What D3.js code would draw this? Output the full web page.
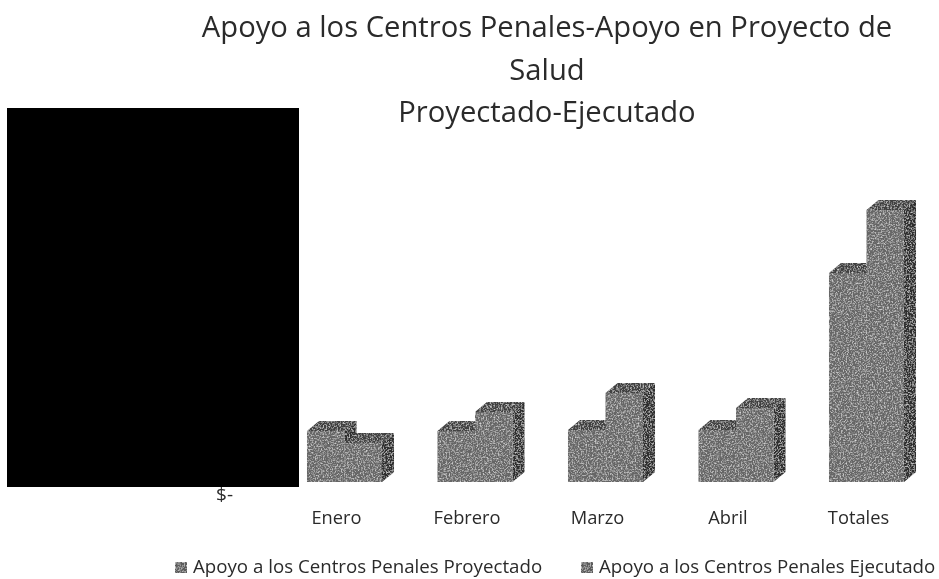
<!DOCTYPE html>
<html lang="es">
  <head>
    <meta charset="UTF-8">
    <title>Apoyo a los Centros Penales</title>
    <script src="https://d3js.org/d3.v7.min.js"></script>
    <style>
      * { margin: 0; padding: 0; }
      body { background: #fff; }
      body > svg { display: block; }
      text { font-family: "Open Sans", "Noto Sans", sans-serif; fill: #2b2b2b; }
    </style>
  </head>
  <body>
    <script>
      var categories = ["Enero", "Febrero", "Marzo", "Abril", "Totales"];
      var seriesNames = ["Apoyo a los Centros Penales Proyectado", "Apoyo a los Centros Penales Ejecutado"];
      var proyectado = [51, 51, 52, 52, 209];
      var ejecutado = [39, 70, 89, 74, 272];
      var titleLines = ["Apoyo a los Centros Penales-Apoyo en Proyecto de", "Salud", "Proyectado-Ejecutado"];

      var width = 939, height = 579;
      var baseY = 482, depthX = 12, depthY = 10;

      var svg = d3.select("body").append("svg")
        .attr("width", width)
        .attr("height", height);

      // scanned print look: grain on the bars, slight blur on everything
      var defs = svg.append("defs");
      var grain = defs.append("filter").attr("id", "grain")
        .attr("x", "-5%").attr("y", "-5%").attr("width", "110%").attr("height", "110%");
      grain.append("feTurbulence")
        .attr("type", "fractalNoise").attr("baseFrequency", 0.65)
        .attr("numOctaves", 3).attr("seed", 4).attr("result", "noise");
      grain.append("feColorMatrix").attr("in", "noise").attr("type", "matrix")
        .attr("values", "0 0 0 0 1  0 0 0 0 1  0 0 0 0 1  1.5 0 0 0 -0.68")
        .attr("result", "specks");
      grain.append("feComposite").attr("in", "specks").attr("in2", "SourceAlpha")
        .attr("operator", "in").attr("result", "clipped");
      grain.append("feMerge").selectAll("feMergeNode")
        .data(["SourceGraphic", "clipped"])
        .enter().append("feMergeNode").attr("in", function (d) { return d; });
      defs.append("filter").attr("id", "soft")
        .append("feGaussianBlur").attr("stdDeviation", 0.5);

      var x = d3.scaleBand()
        .domain(categories)
        .range([279.25, 931.75])
        .paddingInner(0.425)
        .paddingOuter(0.2125);
      var xSeries = d3.scaleBand()
        .domain(d3.range(seriesNames.length))
        .range([0, x.bandwidth()]);
      var y = d3.scaleLinear()
        .domain([0, 272])
        .range([baseY, 210]);

      var bars = [];
      categories.forEach(function (c, i) {
        bars.push({ cat: c, s: 0, v: proyectado[i] });
        bars.push({ cat: c, s: 1, v: ejecutado[i] });
      });

      function poly(pts) {
        var p = d3.path();
        pts.forEach(function (q, i) {
          if (i) p.lineTo(q[0], q[1]); else p.moveTo(q[0], q[1]);
        });
        p.closePath();
        return p.toString();
      }

      var chart = svg.append("g").attr("filter", "url(#soft)");

      var bar = chart.append("g").attr("filter", "url(#grain)")
        .selectAll(".bar")
        .data(bars)
        .enter().append("g")
        .attr("class", "bar");

      function left(d) { return x(d.cat) + xSeries(d.s); }
      function right(d) { return left(d) + xSeries.bandwidth(); }

      bar.append("path")
        .attr("fill", "#2f2f2f")
        .attr("d", function (d) {
          return poly([[right(d), y(d.v)], [right(d) + depthX, y(d.v) - depthY],
            [right(d) + depthX, baseY - depthY], [right(d), baseY]]);
        });
      bar.append("path")
        .attr("fill", "#3f3f3f")
        .attr("d", function (d) {
          return poly([[left(d), y(d.v)], [left(d) + depthX, y(d.v) - depthY],
            [right(d) + depthX, y(d.v) - depthY], [right(d), y(d.v)]]);
        });
      bar.append("path")
        .attr("fill", "#666")
        .attr("d", function (d) {
          return poly([[left(d), y(d.v)], [right(d), y(d.v)], [right(d), baseY], [left(d), baseY]]);
        });

      var xAxis = d3.axisBottom(x).tickSize(0).tickPadding(0);
      var axisX = chart.append("g")
        .attr("transform", "translate(-8,508)")
        .call(xAxis);
      axisX.select(".domain").remove();
      axisX.selectAll("text").attr("font-size", 18.3).attr("dy", "0.9em");

      // only the zero label of the value axis is still visible
      var yAxis = d3.axisLeft(y).tickValues([0]).tickSize(0).tickPadding(0)
        .tickFormat(function () { return "$-"; });
      var axisY = chart.append("g")
        .attr("transform", "translate(233,12)")
        .call(yAxis);
      axisY.select(".domain").remove();
      axisY.selectAll("text").attr("font-size", 19);

      var title = chart.append("text")
        .attr("text-anchor", "middle")
        .attr("font-size", 29.2);
      title.selectAll("tspan")
        .data(titleLines)
        .enter().append("tspan")
        .attr("x", 547)
        .attr("y", function (d, i) { return 37 + i * 42.5; })
        .text(function (d) { return d; });

      var legendX = d3.scaleOrdinal().domain(seriesNames).range([175, 581]);
      var legend = chart.selectAll(".legend")
        .data(seriesNames)
        .enter().append("g")
        .attr("class", "legend")
        .attr("transform", function (d) { return "translate(" + legendX(d) + ",573)"; });
      legend.append("rect")
        .attr("x", 0).attr("y", -11)
        .attr("width", 12).attr("height", 11)
        .attr("fill", "#5c5c5c")
        .attr("filter", "url(#grain)");
      legend.append("text")
        .attr("x", 18)
        .attr("font-size", 18.7)
        .text(function (d) { return d; });

      // the black box covers the value axis in the source
      svg.append("rect")
        .attr("x", 7).attr("y", 108)
        .attr("width", 292).attr("height", 379)
        .attr("fill", "#000");
    </script>
  </body>
</html>
